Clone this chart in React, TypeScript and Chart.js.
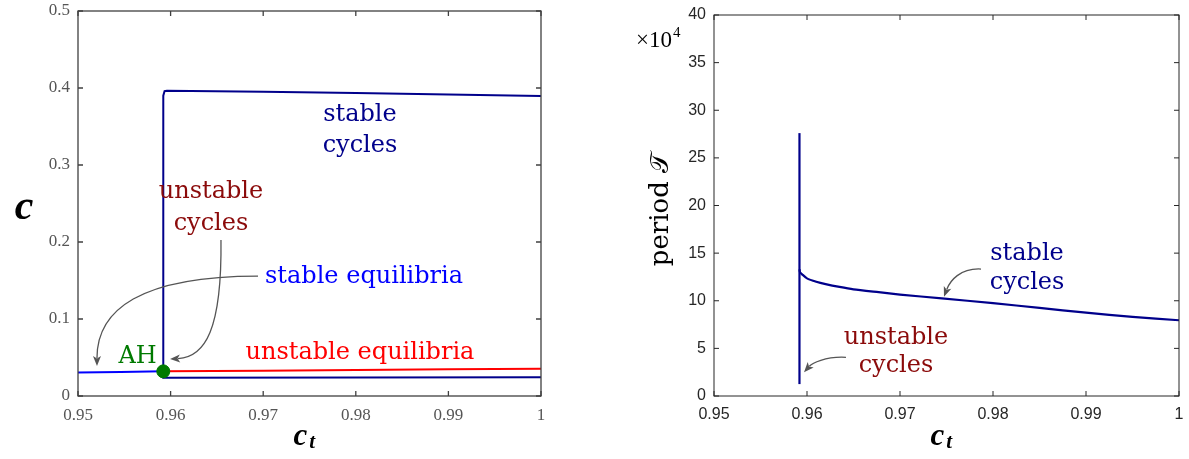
import React, { useEffect, useRef } from "react";
import { Chart, registerables } from "chart.js";
Chart.register(...registerables);

// ---------- tick values & labels ----------
const xTicks = [0.95, 0.96, 0.97, 0.98, 0.99, 1.0];
const xTickLabels = ["0.95", "0.96", "0.97", "0.98", "0.99", "1"];
const cTicks = [0, 0.1, 0.2, 0.3, 0.4, 0.5];
const cTickLabels = ["0", "0.1", "0.2", "0.3", "0.4", "0.5"];
const periodTicks = [0, 5, 10, 15, 20, 25, 30, 35, 40];
const periodTickLabels = ["0", "5", "10", "15", "20", "25", "30", "35", "40"];

// ---------- left panel: amplitude c vs c_t ----------
const stableEqX = [0.95, 0.9546, 0.95921];
const stableEqC = [0.0305, 0.0312, 0.032];
const unstableEqX = [0.95921, 0.97, 0.98, 0.99, 1.0];
const unstableEqC = [0.032, 0.0329, 0.0338, 0.0347, 0.0355];
const cycleX = [1.0, 0.98, 0.9594, 0.95921, 0.95921, 0.95935, 0.9596, 0.97, 0.98, 0.99, 1.0];
const cycleC = [0.0243, 0.0241, 0.0238, 0.0238, 0.39, 0.396, 0.3965, 0.3951, 0.3935, 0.3916, 0.3895];
const hopfX = [0.95921];
const hopfC = [0.032];

// ---------- right panel: period vs c_t (x10^4) ----------
const spikeX = [0.95919, 0.95919];
const spikeT = [1.25, 27.6];
const periodX = [0.95919, 0.95925, 0.9595, 0.96, 0.961, 0.962, 0.9635, 0.965, 0.9677, 0.97, 0.9745, 0.98, 0.985, 0.99, 0.995, 1.0];
const periodT = [13.3, 13.0, 12.75, 12.35, 12.0, 11.75, 11.45, 11.2, 10.9, 10.65, 10.25, 9.75, 9.25, 8.75, 8.3, 7.95];

const NAVY = "#00008b";
const BLUE = "#0000ff";
const RED = "#ff0000";
const DARKRED = "#8b0a0a";
const GREEN = "#007a00";
const ARROW = "#555555";
const NOTE_FONT = "24px 'DejaVu Serif'";

type Note = { text: string; x: number; y: number; color: string; font?: string };
type Arrow = number[][]; // [[x0,y0],[c1x,c1y],[c2x,c2y],[x3,y3]] in data units

const leftNotes: Note[] = [
  { text: "stable", x: 0.98045, y: 0.357, color: NAVY },
  { text: "cycles", x: 0.98045, y: 0.317, color: NAVY },
  { text: "unstable", x: 0.96436, y: 0.257, color: DARKRED },
  { text: "cycles", x: 0.96436, y: 0.2156, color: DARKRED },
  { text: "stable equilibria", x: 0.98089, y: 0.1468, color: BLUE },
  { text: "unstable equilibria", x: 0.98045, y: 0.048, color: RED },
  { text: "AH", x: 0.95643, y: 0.0429, color: GREEN },
];
const leftArrows: Arrow[] = [
  [[0.96944, 0.1558], [0.9567, 0.1558], [0.95205, 0.1117], [0.95205, 0.039]],
  [[0.96544, 0.2026], [0.96555, 0.0857], [0.96371, 0.0506], [0.95994, 0.048]],
];
const rightNotes: Note[] = [
  { text: "stable", x: 0.98366, y: 14.27, color: NAVY },
  { text: "cycles", x: 0.98366, y: 11.25, color: NAVY },
  { text: "unstable", x: 0.96957, y: 5.42, color: DARKRED },
  { text: "cycles", x: 0.96957, y: 2.5, color: DARKRED },
];
const rightArrows: Arrow[] = [
  [[0.97871, 13.33], [0.97645, 13.44], [0.97538, 12.08], [0.97473, 10.42]],
  [[0.96419, 4.06], [0.96194, 4.17], [0.96054, 3.44], [0.95968, 2.5]],
];

const pts = (xs: number[], ys: number[]) => xs.map((x, i) => ({ x, y: ys[i] }));

function drawArrow(ctx: CanvasRenderingContext2D, p: number[][]) {
  const [p0, c1, c2, p3] = p;
  const ang = Math.atan2(p3[1] - c2[1], p3[0] - c2[0]);
  const L = 10, W = 4;
  const bx = p3[0] - Math.cos(ang) * L * 0.8;
  const by = p3[1] - Math.sin(ang) * L * 0.8;
  ctx.save();
  ctx.strokeStyle = ARROW;
  ctx.fillStyle = ARROW;
  ctx.lineWidth = 1.3;
  ctx.beginPath();
  ctx.moveTo(p0[0], p0[1]);
  ctx.bezierCurveTo(c1[0], c1[1], c2[0], c2[1], bx, by);
  ctx.stroke();
  ctx.beginPath();
  ctx.moveTo(p3[0], p3[1]);
  ctx.lineTo(p3[0] - Math.cos(ang) * L + Math.sin(ang) * W, p3[1] - Math.sin(ang) * L - Math.cos(ang) * W);
  ctx.lineTo(p3[0] - Math.cos(ang) * L * 0.75, p3[1] - Math.sin(ang) * L * 0.75);
  ctx.lineTo(p3[0] - Math.cos(ang) * L - Math.sin(ang) * W, p3[1] - Math.sin(ang) * L + Math.cos(ang) * W);
  ctx.closePath();
  ctx.fill();
  ctx.restore();
}

function makeDecor(cfg: {
  frameColor: string;
  frameWidth: number;
  yTicks: number[];
  notes: Note[];
  arrows: Arrow[];
  titles: (ctx: CanvasRenderingContext2D, area: any) => void;
}) {
  return {
    id: "decor",
    afterDraw(chart: any) {
      const ctx: CanvasRenderingContext2D = chart.ctx;
      const a = chart.chartArea;
      const xs = chart.scales.x;
      const ys = chart.scales.y;
      ctx.save();
      ctx.strokeStyle = cfg.frameColor;
      ctx.lineWidth = cfg.frameWidth;
      ctx.strokeRect(a.left, a.top, a.right - a.left, a.bottom - a.top);
      const tl = 5;
      ctx.beginPath();
      xTicks.forEach((v) => {
        const px = xs.getPixelForValue(v);
        ctx.moveTo(px, a.bottom);
        ctx.lineTo(px, a.bottom - tl);
        ctx.moveTo(px, a.top);
        ctx.lineTo(px, a.top + tl);
      });
      cfg.yTicks.forEach((v) => {
        const py = ys.getPixelForValue(v);
        ctx.moveTo(a.left, py);
        ctx.lineTo(a.left + tl, py);
        ctx.moveTo(a.right, py);
        ctx.lineTo(a.right - tl, py);
      });
      ctx.stroke();
      cfg.arrows.forEach((ar) => {
        drawArrow(ctx, ar.map((q) => [xs.getPixelForValue(q[0]), ys.getPixelForValue(q[1])]));
      });
      ctx.textAlign = "center";
      ctx.textBaseline = "alphabetic";
      cfg.notes.forEach((n) => {
        ctx.font = n.font || NOTE_FONT;
        ctx.fillStyle = n.color;
        ctx.fillText(n.text, xs.getPixelForValue(n.x), ys.getPixelForValue(n.y));
      });
      cfg.titles(ctx, a);
      ctx.restore();
    },
  };
}

function drawCt(ctx: CanvasRenderingContext2D, cx: number, baseline: number) {
  ctx.fillStyle = "#000";
  ctx.textAlign = "left";
  ctx.font = "italic bold 31px 'Liberation Serif'";
  const w = ctx.measureText("c").width;
  const x0 = cx - 16;
  ctx.fillText("c", x0, baseline);
  ctx.font = "italic bold 21px 'Liberation Serif'";
  ctx.fillText("t", x0 + w + 2, baseline + 3);
}

function baseOptions(opts: {
  yMin: number;
  yMax: number;
  yTicks: number[];
  yLabels: string[];
  font: any;
  color: string;
  yWidth: number;
  padding: any;
}) {
  return {
    responsive: false,
    animation: false as const,
    layout: { padding: opts.padding },
    plugins: { legend: { display: false }, tooltip: { enabled: false } },
    scales: {
      x: {
        type: "linear" as const,
        min: 0.95,
        max: 1.0,
        afterBuildTicks: (s: any) => {
          s.ticks = xTicks.map((v) => ({ value: v }));
        },
        ticks: {
          callback: (_v: any, i: number) => xTickLabels[i],
          font: opts.font,
          color: opts.color,
          padding: 9,
          maxRotation: 0,
          autoSkip: false,
        },
        grid: { display: false, drawTicks: false },
        border: { display: false },
        afterFit: (s: any) => {
          s.height = 459 - 396;
          s.paddingLeft = 0;
          s.paddingRight = 0;
        },
      },
      y: {
        type: "linear" as const,
        min: opts.yMin,
        max: opts.yMax,
        afterBuildTicks: (s: any) => {
          s.ticks = opts.yTicks.map((v) => ({ value: v }));
        },
        ticks: {
          callback: (_v: any, i: number) => opts.yLabels[i],
          font: opts.font,
          color: opts.color,
          padding: 8,
          autoSkip: false,
        },
        grid: { display: false, drawTicks: false },
        border: { display: false },
        afterFit: (s: any) => {
          s.width = opts.yWidth;
          s.paddingTop = 0;
          s.paddingBottom = 0;
        },
      },
    },
  };
}

export default function App() {
  const leftRef = useRef<HTMLCanvasElement>(null);
  const rightRef = useRef<HTMLCanvasElement>(null);

  useEffect(() => {
    const line = (data: any[], color: string, w = 2, tension = 0) => ({
      data,
      showLine: true,
      borderColor: color,
      backgroundColor: color,
      borderWidth: w,
      pointRadius: 0,
      tension,
    });

    const left = new Chart(leftRef.current!, {
      type: "scatter",
      data: {
        datasets: [
          {
            data: pts(hopfX, hopfC),
            pointRadius: 6.5,
            backgroundColor: GREEN,
            borderColor: GREEN,
            showLine: false,
          } as any,
          line(pts(cycleX, cycleC), NAVY),
          line(pts(unstableEqX, unstableEqC), RED),
          line(pts(stableEqX, stableEqC), BLUE),
        ],
      },
      options: baseOptions({
        yMin: 0,
        yMax: 0.5,
        yTicks: cTicks,
        yLabels: cTickLabels,
        font: { family: "'Liberation Serif'", size: 17 },
        color: "#555555",
        yWidth: 78,
        padding: { top: 11, right: 59, left: 0, bottom: 0 },
      }) as any,
      plugins: [
        makeDecor({
          frameColor: "#404040",
          frameWidth: 1.3,
          yTicks: cTicks,
          notes: leftNotes,
          arrows: leftArrows,
          titles: (ctx, a) => {
            ctx.fillStyle = "#000";
            ctx.textAlign = "center";
            ctx.font = "italic bold 42px 'Liberation Serif'";
            ctx.fillText("c", a.left - 54, (a.top + a.bottom) / 2 + 15);
            drawCt(ctx, (a.left + a.right) / 2, 445);
          },
        }),
      ],
    });

    const right = new Chart(rightRef.current!, {
      type: "scatter",
      data: {
        datasets: [line(pts(spikeX, spikeT), NAVY, 2.2), line(pts(periodX, periodT), NAVY, 2.2, 0.2)],
      },
      options: baseOptions({
        yMin: 0,
        yMax: 40,
        yTicks: periodTicks,
        yLabels: periodTickLabels,
        font: { family: "'Liberation Sans'", size: 16 },
        color: "#262626",
        yWidth: 114,
        padding: { top: 15, right: 10, left: 0, bottom: 0 },
      }) as any,
      plugins: [
        makeDecor({
          frameColor: "#262626",
          frameWidth: 1,
          yTicks: periodTicks,
          notes: rightNotes,
          arrows: rightArrows,
          titles: (ctx, a) => {
            ctx.fillStyle = "#000";
            ctx.textAlign = "left";
            ctx.font = "23px 'Liberation Serif'";
            const w = ctx.measureText("\u00d710").width;
            ctx.fillText("\u00d710", 36, 47);
            ctx.font = "15px 'Liberation Serif'";
            ctx.fillText("4", 36 + w + 1, 37);
            ctx.save();
            ctx.translate(668, 0);
            ctx.restore();
            ctx.save();
            ctx.translate(68, (a.top + a.bottom) / 2 + 4);
            ctx.rotate(-Math.PI / 2);
            ctx.textAlign = "center";
            ctx.font = "26px 'DejaVu Serif', 'DejaVu Sans', 'Noto Sans', serif";
            ctx.fillText("period \ud835\udcaf", 0, 0);
            ctx.restore();
            drawCt(ctx, (a.left + a.right) / 2, 445);
          },
        }),
      ],
    });

    return () => {
      left.destroy();
      right.destroy();
    };
  }, []);

  return (
    <div style={{ position: "absolute", left: 0, top: 0, width: 1189, height: 459, background: "#fff" }}>
      <canvas ref={leftRef} width={600} height={459} style={{ position: "absolute", left: 0, top: 0 }} />
      <canvas ref={rightRef} width={589} height={459} style={{ position: "absolute", left: 600, top: 0 }} />
    </div>
  );
}
